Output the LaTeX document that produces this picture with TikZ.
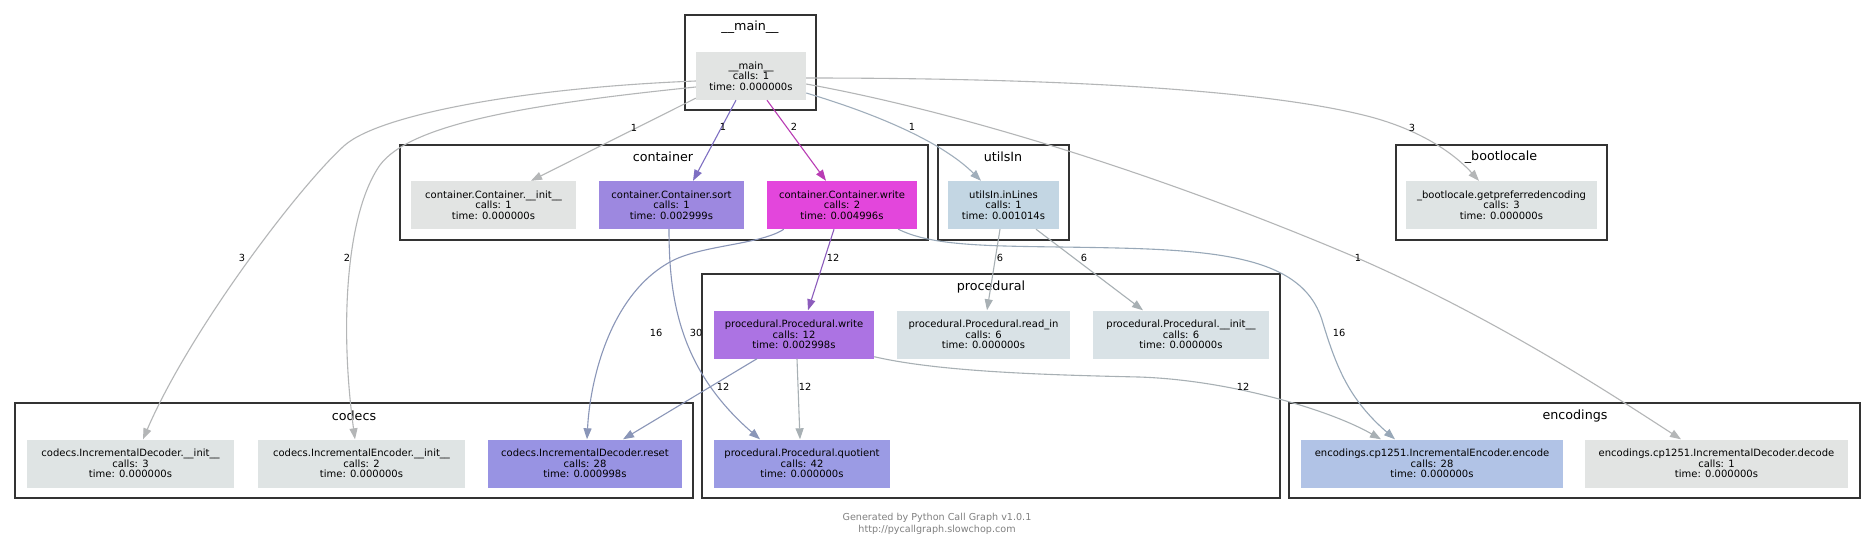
\documentclass[tikz,border=0pt]{standalone}
\usepackage{fontspec}
\setmainfont{DejaVu Sans}
\usetikzlibrary{arrows.meta}
% node fills
\definecolor{grayA}{RGB}{226,228,227}
\definecolor{grayB}{RGB}{223,228,228}
\definecolor{grayC}{RGB}{217,226,230}
\definecolor{sortfill}{RGB}{157,136,224}
\definecolor{cwritefill}{RGB}{227,70,220}
\definecolor{inlfill}{RGB}{195,214,227}
\definecolor{pwritefill}{RGB}{172,115,227}
\definecolor{quotfill}{RGB}{155,155,228}
\definecolor{resetfill}{RGB}{152,147,227}
\definecolor{encfill}{RGB}{177,195,230}
% edges and frames
\definecolor{clusterline}{RGB}{51,51,51}
\definecolor{egray}{RGB}{180,182,183}
\definecolor{esort}{RGB}{126,111,194}
\definecolor{ewrite}{RGB}{185,60,180}
\definecolor{eutil}{RGB}{160,174,187}
\definecolor{epwrite}{RGB}{140,92,188}
\definecolor{eblue}{RGB}{138,150,184}
\definecolor{eenc}{RGB}{152,168,184}
\definecolor{egray2}{RGB}{168,176,180}
\definecolor{footgray}{RGB}{128,128,128}

\begin{document}
\begin{tikzpicture}[x=1pt,y=-1pt,
    fn/.style={fill=#1, minimum height=48pt, inner sep=0pt, align=center,
      font=\fontsize{10}{10.6}\selectfont},
    grp/.style={draw=clusterline, line width=2.6pt},
    grptitle/.style={font=\fontsize{12.7}{14}\selectfont},
    call/.style={line width=1.1pt, -{Triangle[length=11pt,width=8pt]}},
    lbl/.style={font=\fontsize{9.8}{10}\selectfont, inner sep=0pt}]
      \fill[white] (0,0) rectangle (1875,547);
      \useasboundingbox (0,0) rectangle (1875,547);
      % Module frames
      \draw[grp] (685,15) rectangle (816,110);
      \node[grptitle] (tmain) at (750,27) {\_\_main\_\_};
      \draw[grp] (400,145) rectangle (928,240);
      \node[grptitle] (tcont) at (663,157) {container};
      \draw[grp] (938,145) rectangle (1069,240);
      \node[grptitle] (tutil) at (1003,157) {utilsIn};
      \draw[grp] (1396,145) rectangle (1607,240);
      \node[grptitle] (tboot) at (1501,157) {\_bootlocale};
      \draw[grp] (702,274) rectangle (1280,498);
      \node[grptitle] (tproc) at (991,287) {procedural};
      \draw[grp] (15,403) rectangle (693,498);
      \node[grptitle] (tcodec) at (354,416) {codecs};
      \draw[grp] (1289,403) rectangle (1860,498);
      \node[grptitle] (tenc) at (1575,416) {encodings};
      % Functions
      \node[fn=grayA, minimum width=110pt] (main) at (751,76)
        {\_\_main\_\_\\calls: 1\\time: 0.000000s};
      \node[fn=grayA, minimum width=165pt] (cinit) at (493.5,205)
        {container.Container.\_\_init\_\_\\calls: 1\\time: 0.000000s};
      \node[fn=sortfill, minimum width=145pt] (csort) at (671.5,205)
        {container.Container.sort\\calls: 1\\time: 0.002999s};
      \node[fn=cwritefill, minimum width=150pt] (cwrite) at (842,205)
        {container.Container.write\\calls: 2\\time: 0.004996s};
      \node[fn=inlfill, minimum width=111pt] (uinl) at (1003.5,205)
        {utilsIn.inLines\\calls: 1\\time: 0.001014s};
      \node[fn=grayB, minimum width=191pt] (boot) at (1501.5,205)
        {\_bootlocale.getpreferredencoding\\calls: 3\\time: 0.000000s};
      \node[fn=pwritefill, minimum width=160pt] (pwrite) at (794,334.5)
        {procedural.Procedural.write\\calls: 12\\time: 0.002998s};
      \node[fn=grayC, minimum width=173pt] (pread) at (983.5,334.5)
        {procedural.Procedural.read\_in\\calls: 6\\time: 0.000000s};
      \node[fn=grayC, minimum width=176pt] (pinit) at (1181,334.5)
        {procedural.Procedural.\_\_init\_\_\\calls: 6\\time: 0.000000s};
      \node[fn=quotfill, minimum width=176pt] (pquot) at (802,463.5)
        {procedural.Procedural.quotient\\calls: 42\\time: 0.000000s};
      \node[fn=grayB, minimum width=207pt] (cdinit) at (130.5,463.5)
        {codecs.IncrementalDecoder.\_\_init\_\_\\calls: 3\\time: 0.000000s};
      \node[fn=grayB, minimum width=207pt] (ceinit) at (361.5,463.5)
        {codecs.IncrementalEncoder.\_\_init\_\_\\calls: 2\\time: 0.000000s};
      \node[fn=resetfill, minimum width=194pt] (creset) at (585,463.5)
        {codecs.IncrementalDecoder.reset\\calls: 28\\time: 0.000998s};
      \node[fn=encfill, minimum width=262pt] (eenc) at (1432,463.5)
        {encodings.cp1251.IncrementalEncoder.encode\\calls: 28\\time: 0.000000s};
      \node[fn=grayA, minimum width=263pt] (edec) at (1716.5,463.5)
        {encodings.cp1251.IncrementalDecoder.decode\\calls: 1\\time: 0.000000s};
      % Calls out of __main__
      \draw[call, draw=egray] ([yshift=2pt]main.south west) -- ([xshift=37.5pt]cinit.north)
        node[lbl] at (634,128) {1};
      \draw[call, draw=esort] ([xshift=-15pt]main.south) -- ([xshift=21.5pt]csort.north)
        node[lbl] at (723,127) {1};
      \draw[call, draw=ewrite] ([xshift=16pt]main.south) -- ([xshift=-16pt]cwrite.north)
        node[lbl] at (794,127) {2};
      \draw[call, draw=eutil] ([yshift=-17pt]main.east) .. controls (870,112) and (940,140) .. ([xshift=-22.5pt]uinl.north)
        node[lbl] at (912,127) {1};
      \draw[call, draw=egray] ([yshift=-2pt]main.east) .. controls (1000,78) and (1250,85) .. (1371,117)
        .. controls (1430,133) and (1460,160) .. ([xshift=-22.5pt]boot.north)
        node[lbl] at (1412,128) {3};
      \draw[call, draw=egray] ([yshift=-8pt]main.east) .. controls (950,110) and (1150,170) .. (1355,257)
        .. controls (1500,320) and (1620,400) .. ([xshift=-35.5pt]edec.north)
        node[lbl] at (1358,258) {1};
      \draw[call, draw=egray] ([yshift=-5pt]main.west) .. controls (520,88) and (380,115) .. (345,145)
        .. controls (300,185) and (190,330) .. ([xshift=12.5pt]cdinit.north)
        node[lbl] at (242,258) {3};
      \draw[call, draw=egray] ([yshift=-11pt]main.west) .. controls (520,105) and (410,125) .. (380,165)
        .. controls (345,215) and (340,330) .. ([xshift=-6.5pt]ceinit.north)
        node[lbl] at (347,258) {2};
      % Calls out of container
      \draw[call, draw=epwrite] ([xshift=-8pt]cwrite.south) -- ([xshift=14pt]pwrite.north)
        node[lbl] at (833,258) {12};
      \draw[call, draw=eblue] ([xshift=17pt]cwrite.south west) .. controls (760,245) and (700,245) .. (670,262)
        .. controls (610,295) and (590,380) .. ([xshift=2pt]creset.north)
        node[lbl] at (656,333) {16};
      \draw[call, draw=eblue] ([xshift=-2.5pt]csort.south) .. controls (669,300) and (680,370) .. ([xshift=-42pt]pquot.north)
        node[lbl] at (696,333) {30};
      \draw[call, draw=eenc] ([xshift=-19pt]cwrite.south east) .. controls (930,245) and (980,246) .. (1060,247)
        .. controls (1200,249) and (1300,250) .. (1322,320)
        .. controls (1337,370) and (1350,400) .. ([xshift=-37pt]eenc.north)
        node[lbl] at (1339,333) {16};
      % Calls out of utilsIn
      \draw[call, draw=egray2] ([xshift=-3.5pt]uinl.south) -- ([xshift=3.5pt]pread.north)
        node[lbl] at (1000,258) {6};
      \draw[call, draw=egray2] ([xshift=32.5pt]uinl.south) -- ([xshift=-38pt]pinit.north)
        node[lbl] at (1084,258) {6};
      % Calls out of procedural.write
      \draw[call, draw=eblue] ([xshift=-37pt]pwrite.south) -- ([xshift=38pt]creset.north)
        node[lbl] at (723,387) {12};
      \draw[call, draw=egray2] ([xshift=3pt]pwrite.south) -- ([xshift=-2pt]pquot.north)
        node[lbl] at (805,387) {12};
      \draw[call, draw=egray2] ([yshift=2pt]pwrite.south east) .. controls (940,372) and (1050,375) .. (1139,377)
        .. controls (1230,380) and (1330,410) .. ([xshift=-51pt]eenc.north)
        node[lbl] at (1243,387) {12};
      % Credit line
      \node[font=\fontsize{9.6}{12}\selectfont, text=footgray, align=center] (credit) at (937,524)
        {Generated by Python Call Graph v1.0.1\\http://pycallgraph.slowchop.com};
    \end{tikzpicture}
\end{document}
